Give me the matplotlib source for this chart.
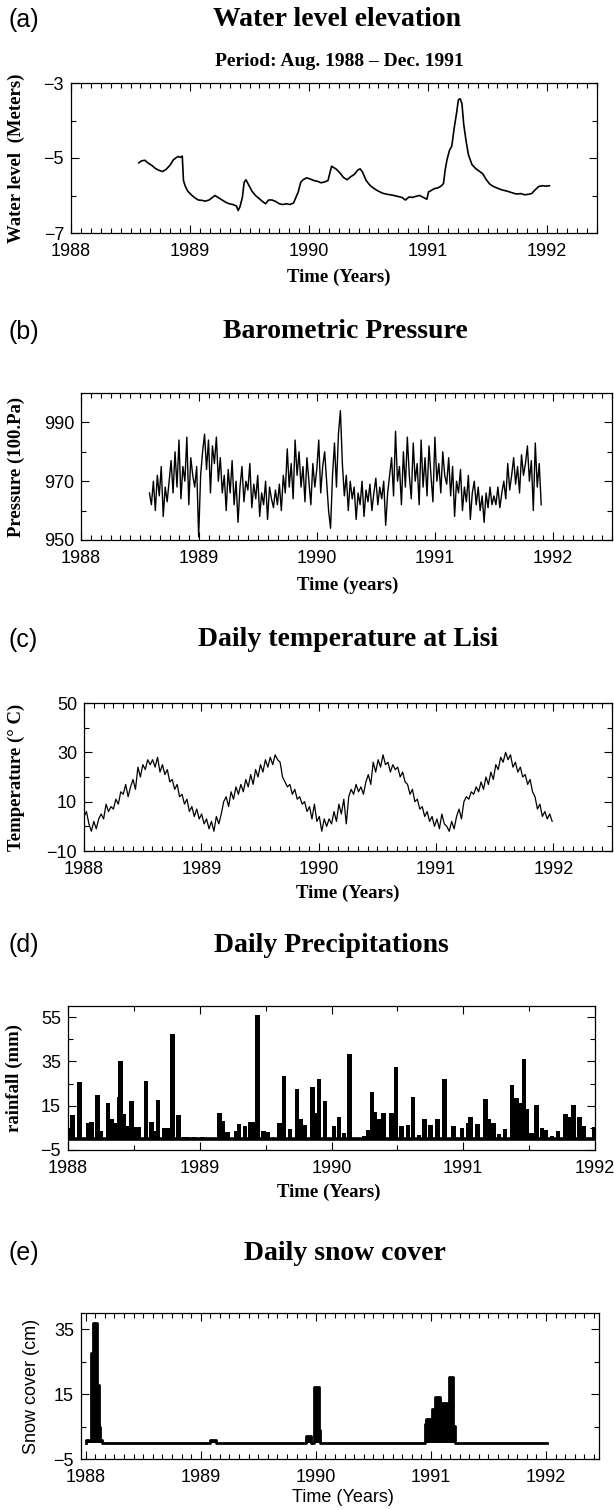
import numpy as np
import matplotlib
matplotlib.use('Agg')
import matplotlib.pyplot as plt
from matplotlib.ticker import MultipleLocator

SERIF = 'Liberation Serif'
SANS = 'Liberation Sans'
plt.rcParams['font.family'] = SANS
plt.rcParams['axes.unicode_minus'] = True

# ---- data ----
years = [1988, 1989, 1990, 1991, 1992]

# (a) water level, (year, meters)
water_level = [
    (1988.57, -5.13), (1988.59, -5.08), (1988.62, -5.06), (1988.65, -5.14), (1988.68, -5.20),
    (1988.71, -5.28), (1988.74, -5.33), (1988.77, -5.36), (1988.80, -5.30), (1988.83, -5.20),
    (1988.86, -5.05), (1988.88, -5.00), (1988.90, -4.96), (1988.92, -4.98), (1988.935, -4.95),
    (1988.945, -5.60), (1988.96, -5.75), (1988.98, -5.88), (1989.01, -5.98), (1989.04, -6.06),
    (1989.07, -6.12), (1989.10, -6.13), (1989.13, -6.15), (1989.16, -6.12), (1989.19, -6.05),
    (1989.21, -6.00), (1989.24, -6.06), (1989.27, -6.12), (1989.30, -6.18), (1989.33, -6.22),
    (1989.36, -6.24), (1989.39, -6.28), (1989.405, -6.40), (1989.42, -6.30), (1989.44, -6.05),
    (1989.455, -5.65), (1989.47, -5.58), (1989.49, -5.70), (1989.52, -5.88), (1989.55, -6.00),
    (1989.58, -6.08), (1989.61, -6.16), (1989.635, -6.22), (1989.66, -6.12), (1989.69, -6.12),
    (1989.72, -6.16), (1989.75, -6.22), (1989.78, -6.24), (1989.81, -6.22), (1989.84, -6.24),
    (1989.87, -6.20), (1989.89, -6.05), (1989.91, -5.90), (1989.93, -5.65), (1989.95, -5.58),
    (1989.98, -5.53), (1990.01, -5.56), (1990.04, -5.60), (1990.07, -5.62), (1990.10, -5.66),
    (1990.13, -5.64), (1990.16, -5.60), (1990.175, -5.40), (1990.19, -5.22), (1990.21, -5.26),
    (1990.23, -5.30), (1990.26, -5.40), (1990.29, -5.52), (1990.32, -5.58), (1990.35, -5.50),
    (1990.38, -5.44), (1990.41, -5.32), (1990.43, -5.29), (1990.45, -5.38), (1990.48, -5.60),
    (1990.51, -5.72), (1990.54, -5.80), (1990.58, -5.88), (1990.62, -5.94), (1990.66, -5.97),
    (1990.70, -5.99), (1990.74, -6.02), (1990.78, -6.05), (1990.81, -6.12), (1990.84, -6.04),
    (1990.87, -6.05), (1990.90, -6.02), (1990.93, -6.00), (1990.96, -6.05), (1990.99, -6.10),
    (1991.005, -5.90), (1991.02, -5.88), (1991.05, -5.82), (1991.08, -5.80), (1991.11, -5.75),
    (1991.13, -5.68), (1991.145, -5.30), (1991.16, -5.04), (1991.18, -4.80), (1991.20, -4.68),
    (1991.22, -4.20), (1991.24, -3.80), (1991.255, -3.45), (1991.27, -3.42), (1991.285, -3.55),
    (1991.30, -4.10), (1991.32, -4.55), (1991.34, -4.92), (1991.37, -5.18), (1991.40, -5.28),
    (1991.43, -5.35), (1991.46, -5.42), (1991.49, -5.58), (1991.52, -5.70), (1991.55, -5.76),
    (1991.58, -5.80), (1991.62, -5.85), (1991.66, -5.88), (1991.70, -5.92), (1991.74, -5.96),
    (1991.78, -5.95), (1991.81, -5.98), (1991.84, -5.97), (1991.87, -5.95), (1991.90, -5.85),
    (1991.93, -5.76), (1991.96, -5.74), (1991.99, -5.75), (1992.02, -5.74),
]

# (b) barometric pressure (100 Pa), sampled every ~6 days
pressure_start, pressure_end = 1988.58, 1991.90
pressure = [
    966, 962, 970, 960, 972, 965, 975, 958, 968, 963,
    970, 977, 966, 980, 968, 984, 964, 975, 970, 985, 962, 978, 972, 968, 975,
    951,
    972, 980, 986, 974, 984, 966, 982, 976, 985, 970, 978, 966,
    972, 960, 974, 966, 977, 962, 970, 956, 968, 975, 963, 970, 967, 976, 961,
    969, 964, 972, 958, 966, 962, 970, 957, 968, 964, 961, 967, 962, 969, 960,
    972, 966, 981, 968, 976, 964, 984, 972, 980, 968, 975, 963, 978, 970, 962, 976, 968, 974,
    984, 966, 975, 980, 970, 960, 954, 972, 983, 968, 986, 994,
    976, 965, 972, 960, 970, 964, 968, 957, 966, 962, 970, 958,
    967, 963, 969, 960, 966, 971, 962, 968, 964, 970, 955, 966,
    972, 978, 965, 987, 970, 975, 962, 980, 968, 985, 972, 964, 983, 970, 976,
    962, 984, 968, 978, 965, 982, 972, 963, 985, 970, 976, 966, 980, 972, 969,
    978, 965, 975, 958, 970, 966, 974, 960, 968, 963, 972, 957,
    966, 970, 962, 968, 960, 965, 956, 966, 961, 968, 962, 965,
    962, 968, 961, 966, 970, 964, 976, 967, 972, 978, 969, 975,
    966, 979, 972, 976, 982, 970, 977, 960, 983, 968, 976, 962,
]

# (c) daily temperature (deg C), ~4 samples per month
temp_start, temp_end = 1988.0, 1991.99
temperature = [
    4, 6, 1, -2, 2, -1, 3, 5, 3, 9, 6, 8, 7, 11, 9, 14, 13, 17, 12, 16, 19, 15, 24, 20,
    25, 23, 27, 25, 27, 24, 28, 22, 25, 21, 23, 18, 19, 15, 17, 12, 13, 9, 11, 6, 8, 4, 7, 3,
    5, 1, 3, -1, 2, -2, 4, 1, 5, 10, 12, 8, 14, 11, 16, 13, 17, 14, 19, 16, 21, 17, 23, 20,
    25, 22, 27, 24, 28, 25, 29, 27, 26, 20, 18, 16, 17, 13, 15, 11, 12, 9, 10, 6, 8, 3, 9, 2,
    4, -2, 3, 0, 3, 1, 6, 2, 9, 5, 11, 1, 12, 15, 13, 17, 14, 16, 13, 18, 21, 17, 26, 22,
    27, 24, 29, 25, 26, 22, 25, 23, 24, 20, 22, 18, 17, 13, 15, 10, 11, 7, 8, 4, 6, 2, 4, 0,
    3, -1, 5, 1, 0, -2, 2, -1, 4, 7, 3, 10, 12, 11, 14, 13, 16, 14, 18, 15, 20, 17, 22, 19,
    25, 23, 28, 26, 30, 27, 29, 24, 26, 22, 24, 20, 21, 17, 19, 14, 12, 7, 9, 4, 6, 3, 5, 2,
]

# (d) precipitation events (year, mm)
precip = [
    (1988.015, 4.75), (1988.036, 11), (1988.089, 25.5), (1988.154, 7), (1988.178, 7.5),
    (1988.223, 19.75), (1988.249, 3.5), (1988.303, 16.3), (1988.333, 8.8), (1988.365, 7.3),
    (1988.386, 18.7), (1988.398, 35.2), (1988.425, 11.2), (1988.454, 5.8), (1988.481, 17),
    (1988.511, 5.5), (1988.540, 5.5), (1988.591, 26), (1988.633, 7.75), (1988.659, 3.5),
    (1988.683, 17.5), (1988.733, 4.75), (1988.757, 4.75), (1988.793, 47.2), (1988.837, 10.75),
    (1988.882, 1), (1988.912, 0.7), (1988.956, 1), (1989.016, 0.7), (1989.149, 11.5),
    (1989.173, 8), (1989.209, 3), (1989.274, 3.7), (1989.298, 6.7), (1989.342, 5.8),
    (1989.387, 7.6), (1989.408, 7.6), (1989.440, 55.75), (1989.482, 3.7), (1989.512, 3.25),
    (1989.607, 7.3), (1989.639, 28.3), (1989.684, 4.6), (1989.737, 22.75), (1989.767, 8.8),
    (1989.797, 6.25), (1989.856, 23.5), (1989.886, 11.5), (1989.906, 27), (1989.951, 17),
    (1990.019, 5.8), (1990.058, 9.7), (1990.094, 2.5), (1990.138, 38.2), (1990.248, 1.3),
    (1990.278, 4), (1990.307, 21.25), (1990.331, 12.25), (1990.361, 8.8), (1990.396, 11.5),
    (1990.456, 11.8), (1990.491, 32.5), (1990.530, 5.8), (1990.581, 6.1), (1990.619, 19),
    (1990.664, 1.75), (1990.708, 8.8), (1990.753, 6.25), (1990.806, 9), (1990.857, 27.25),
    (1990.925, 5.8), (1990.990, 4.75), (1991.035, 7), (1991.056, 9.7), (1991.109, 6.7),
    (1991.168, 17.8), (1991.192, 8.8), (1991.228, 7.3), (1991.272, 2.2), (1991.317, 4.3),
    (1991.370, 24.25), (1991.406, 18.5), (1991.430, 16.3), (1991.460, 36.25), (1991.480, 13.3),
    (1991.519, 2.8), (1991.555, 15.25), (1991.599, 4.75), (1991.629, 4), (1991.673, 1.3),
    (1991.718, 3.5), (1991.777, 11.2), (1991.807, 10), (1991.837, 15.25), (1991.881, 9.7),
    (1991.917, 6), (1991.991, 5.5),
]

# (e) snow cover, step changes (year, cm)
snow = [
    (1988.000, 0), (1988.005, 1), (1988.046, 27.8), (1988.060, 36.9), (1988.103, 17.9),
    (1988.118, 4.9), (1988.129, 1), (1988.141, 0), (1989.082, 1), (1989.134, 0),
    (1989.917, 2), (1989.961, 0), (1989.984, 17.1), (1990.028, 4), (1990.039, 0),
    (1990.950, 5.8), (1990.958, 7.3), (1991.009, 10.4), (1991.037, 14), (1991.081, 12.2),
    (1991.139, 0.7), (1991.153, 20.2), (1991.196, 5.2), (1991.211, 0), (1992.005, 0),
]

W, H = 614, 1510
fig = plt.figure(figsize=(W / 100, H / 100), dpi=100)


def fx(px):
    return px / W


def fy(py):
    return 1 - py / H


def make_axes(l, t, r, b):
    return fig.add_axes([fx(l), fy(b), (r - l) / W, (b - t) / H])


def style(ax, xlim, ylim, yt, ytm, xminor):
    ax.set_xlim(*xlim)
    ax.set_ylim(*ylim)
    ax.set_xticks(years)
    ax.xaxis.set_minor_locator(MultipleLocator(xminor))
    ax.set_yticks(yt)
    ax.set_yticks(ytm, minor=True)
    ax.tick_params(which='both', direction='in', top=True, right=True,
                   labelsize=13, width=0.8, colors='black')
    ax.tick_params(which='major', length=6)
    ax.tick_params(which='minor', length=3.5)
    ax.tick_params(axis='x', pad=7.5)
    ax.tick_params(axis='y', pad=5)
    for s in ax.spines.values():
        s.set_linewidth(0.9)


def heading(tag, title, x, y):
    fig.text(fx(8), fy(y), tag, ha='left', va='center', fontsize=18, family=SANS)
    fig.text(fx(x), fy(y), title, ha='center', va='center', fontsize=20,
             fontweight='bold', family=SERIF)


def labels(ax, xl, yl, xl_x, xl_y, yl_x, serif=True):
    kw = dict(fontsize=13.5, fontweight='bold', family=SERIF) if serif else dict(fontsize=13, family=SANS)
    ax.set_xlabel(xl, va='center', ha='center', **kw)
    ax.set_ylabel(yl, va='center', ha='center', **kw)
    pos = ax.get_position()
    ax.xaxis.set_label_coords(fx(xl_x), fy(xl_y), transform=fig.transFigure)
    ax.yaxis.set_label_coords(fx(yl_x), pos.y0 + pos.height / 2, transform=fig.transFigure)


# (a) water level
ax = make_axes(71, 83, 597, 233)
t, v = zip(*water_level)
ax.plot(t, v, color='black', lw=1.2)
style(ax, (1988, 1992.42), (-7, -3), [-7, -5, -3], [-6, -4], 1 / 12)
heading('(a)', 'Water level elevation', 337, 20)
fig.text(fx(339), fy(62), 'Period: Aug. 1988 \u2013 Dec. 1991', ha='center', va='center',
         fontsize=14, fontweight='bold', family=SERIF)
labels(ax, 'Time (Years)', 'Water level  (Meters)', 339, 277, 16)

# (b) pressure
ax = make_axes(81, 393, 612, 540)
tp = np.linspace(pressure_start, pressure_end, len(pressure))
ax.plot(tp, pressure, color='black', lw=1.0)
style(ax, (1988, 1992.5), (950, 1000), [950, 970, 990], [960, 980], 1 / 12)
heading('(b)', 'Barometric Pressure', 345, 332)
labels(ax, 'Time (years)', 'Pressure (100.Pa)', 348, 585, 16)

# (c) temperature
ax = make_axes(84, 703, 612, 851)
tt = np.linspace(temp_start, temp_end, len(temperature))
ax.plot(tt, temperature, color='black', lw=0.9)
style(ax, (1988, 1992.5), (-10, 50), [-10, 10, 30, 50], [0, 20, 40], 1 / 12)
heading('(c)', 'Daily temperature at Lisi', 348, 640)
labels(ax, 'Time (Years)', 'Temperature (\u00b0 C)', 348, 893, 16)

# (d) precipitation
ax = make_axes(68, 1006, 595, 1150)
t, v = zip(*precip)
ax.bar(t, v, width=0.035, color='black', linewidth=0)
ax.axhline(0, color='black', lw=2.6)
style(ax, (1988, 1992), (-5, 60), [-5, 15, 35, 55], [5, 25, 45], 0.5)
heading('(d)', 'Daily Precipitations', 331, 945)
labels(ax, 'Time (Years)', 'rainfall (mm)', 329, 1192, 14)

# (e) snow cover
ax = make_axes(81, 1313, 599, 1459)
t, v = zip(*snow)
ax.fill_between(t, v, step='post', color='black', linewidth=0)
ax.step(t, v, where='post', color='black', lw=2.0)
style(ax, (1987.96, 1992.46), (-5, 40), [-5, 15, 35], [5, 25], 1 / 12)
heading('(e)', 'Daily snow cover', 345, 1253)
labels(ax, 'Time (Years)', 'Snow cover (cm)', 343, 1498, 31, serif=False)

fig.savefig('out.png', dpi=100)
